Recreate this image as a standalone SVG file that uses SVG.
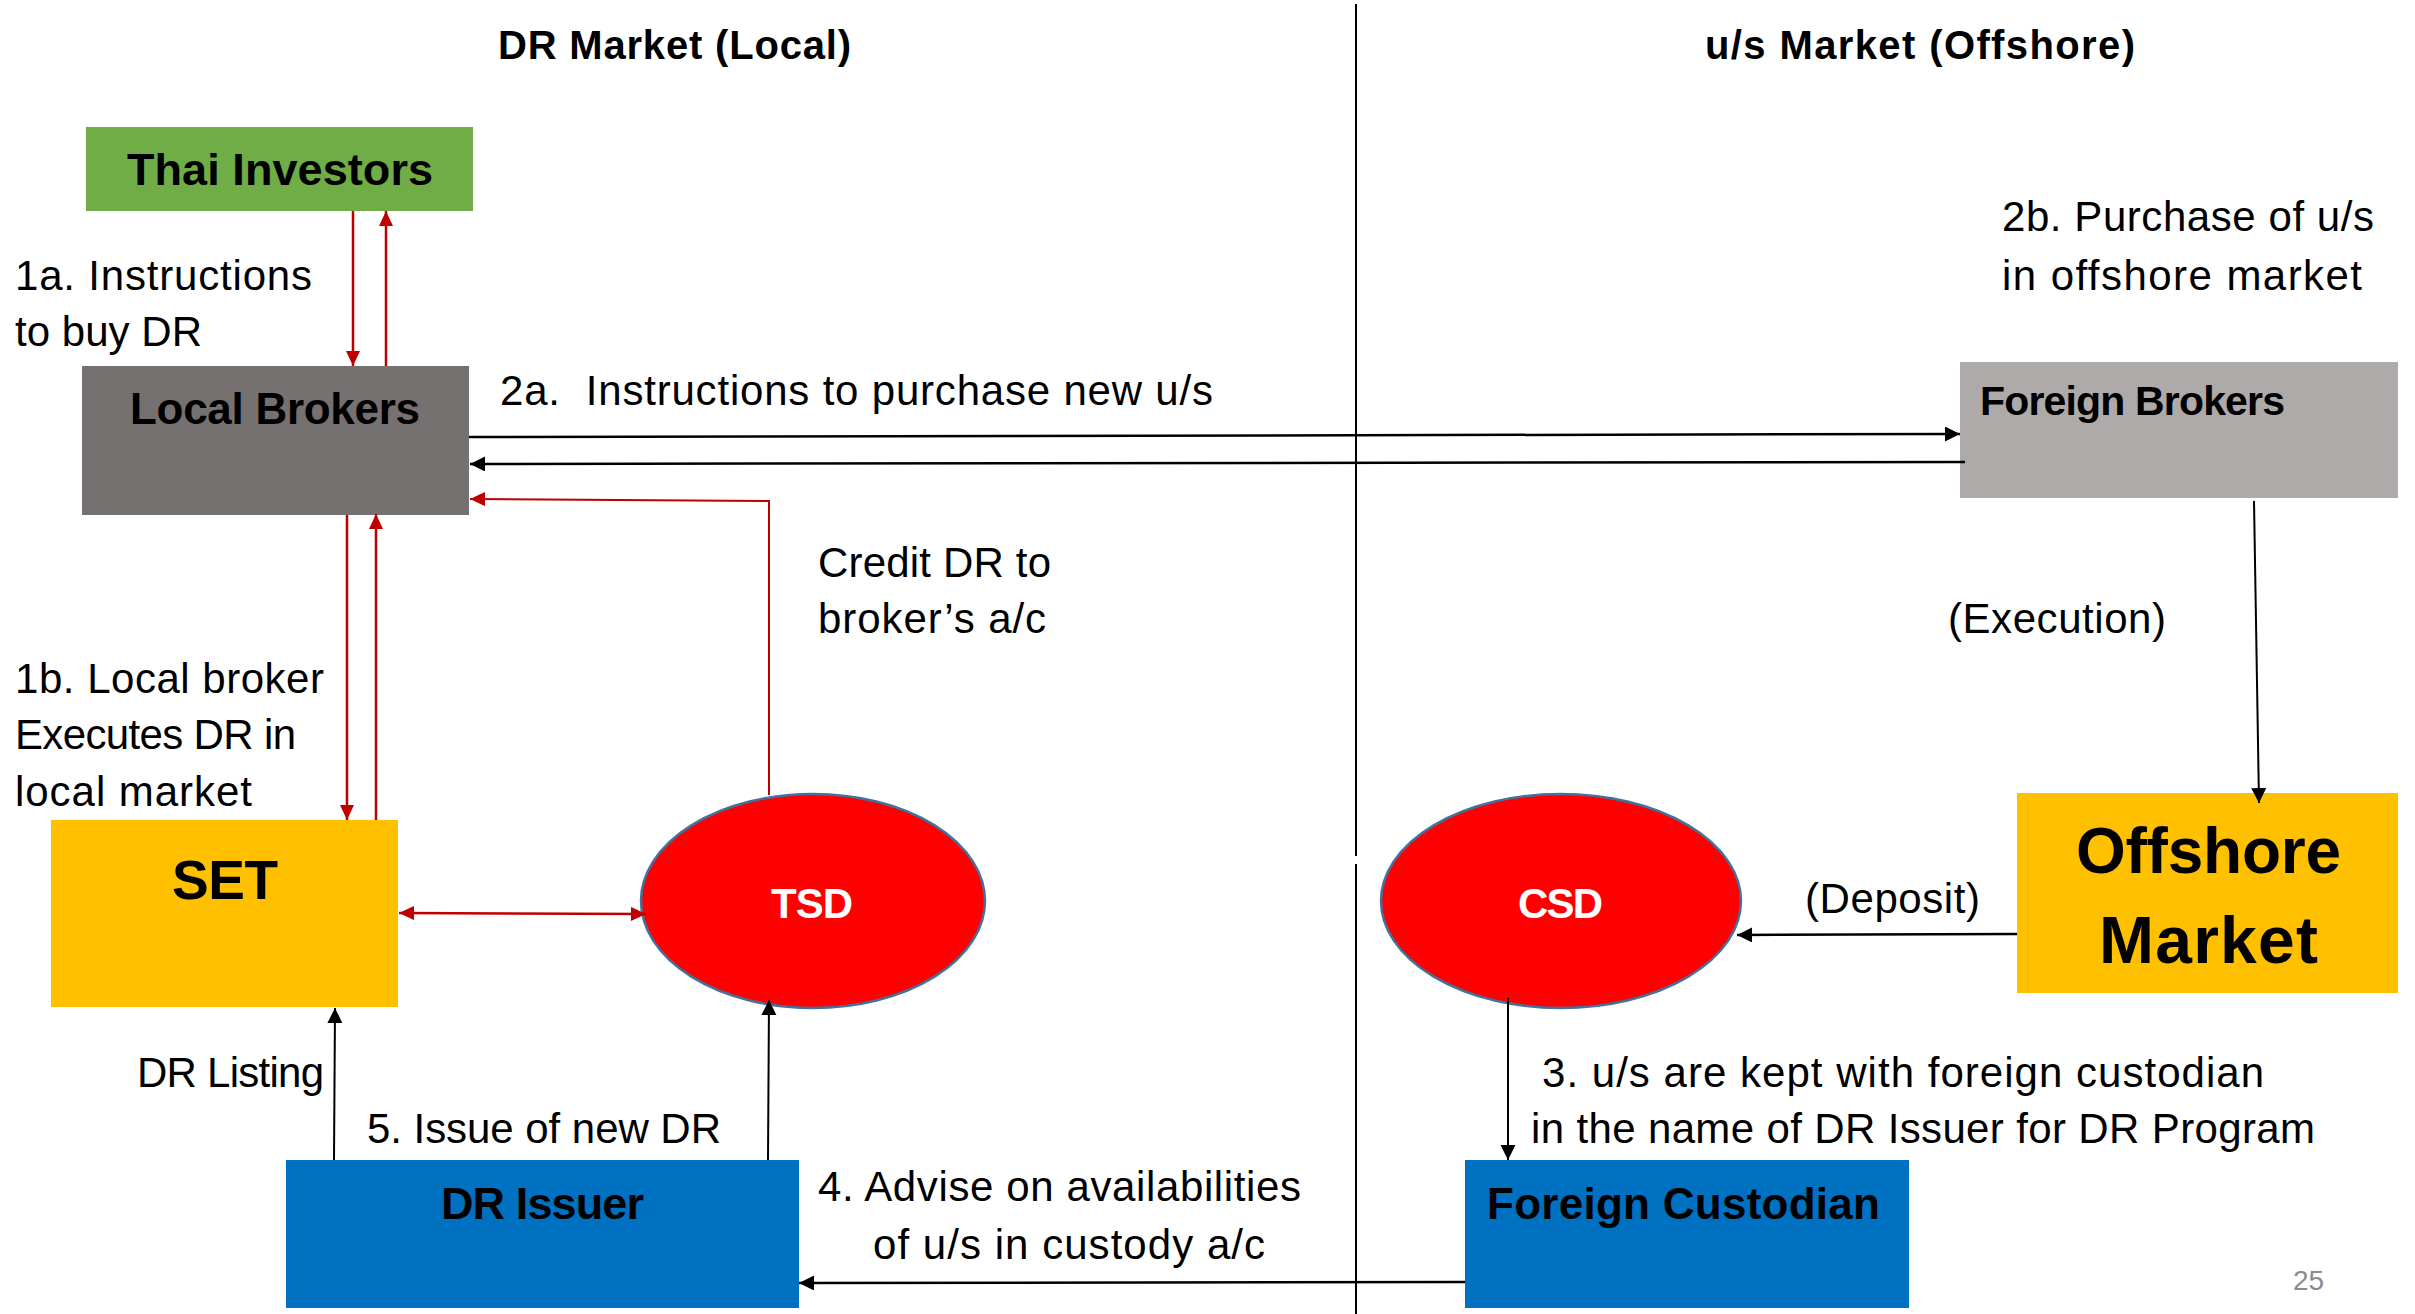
<svg xmlns="http://www.w3.org/2000/svg" width="2415" height="1314" viewBox="0 0 2415 1314">
<defs>
<style>
text{font-family:"Liberation Sans",Arial,sans-serif;fill:#000}
.t{font-size:42px}
.h{font-size:40px;font-weight:bold}
.n{font-size:45px;font-weight:bold}
.w{font-size:42px;font-weight:bold;fill:#fff}
.blk{stroke:#000;stroke-width:2.5;fill:none}
.thin{stroke:#000;stroke-width:2;fill:none}
.red{stroke:#C00000;stroke-width:2.5;fill:none}
.redthin{stroke:#C00000;stroke-width:2;fill:none}
.ell{fill:#FF0000;stroke:#41719C;stroke-width:2.5}
</style>
<marker id="ab" markerUnits="userSpaceOnUse" markerWidth="16" markerHeight="16" refX="15" refY="7.5" orient="auto-start-reverse">
<path d="M0,0 L15,7.5 L0,15 z" fill="#000"/>
</marker>
<marker id="ar" markerUnits="userSpaceOnUse" markerWidth="16" markerHeight="16" refX="15" refY="7" orient="auto-start-reverse">
<path d="M0,0 L15,7 L0,14 z" fill="#C00000"/>
</marker>
</defs>
<rect width="2415" height="1314" fill="#fff"/>

<g id="divider">
<line x1="1356" y1="4" x2="1356" y2="856" class="thin"/>
<line x1="1356" y1="864" x2="1356" y2="1314" class="thin"/>
</g>

<g id="titles">
<text class="h" x="498" y="59" textLength="353">DR Market (Local)</text>
<text class="h" x="1705" y="59" textLength="430">u/s Market (Offshore)</text>
</g>

<g id="thai-investors">
<rect x="86" y="127" width="387" height="84" fill="#70AD47"/>
<text class="n" x="127" y="185" textLength="306">Thai Investors</text>
</g>

<g id="local-brokers">
<rect x="82" y="366" width="387" height="149" fill="#767171"/>
<text class="n" style="font-size:44px" x="130" y="424" textLength="290">Local Brokers</text>
</g>

<g id="foreign-brokers">
<rect x="1960" y="362" width="438" height="136" fill="#AEAAAA"/>
<text class="n" style="font-size:41px" x="1980" y="415" textLength="305">Foreign Brokers</text>
</g>

<g id="set">
<rect x="51" y="820" width="347" height="187" fill="#FFC000"/>
<text class="n" style="font-size:55px" x="172" y="899" textLength="106">SET</text>
</g>

<g id="tsd">
<ellipse cx="813" cy="901" rx="172" ry="107" class="ell"/>
<text class="w" x="771" y="918" textLength="82">TSD</text>
</g>

<g id="csd">
<ellipse cx="1561" cy="901" rx="180" ry="107" class="ell"/>
<text class="w" x="1518" y="918" textLength="85">CSD</text>
</g>

<g id="offshore-market">
<rect x="2017" y="793" width="381" height="200" fill="#FFC000"/>
<text class="n" style="font-size:64px" x="2076" y="873" textLength="265">Offshore</text>
<text class="n" style="font-size:66px" x="2099" y="963" textLength="219">Market</text>
</g>

<g id="dr-issuer">
<rect x="286" y="1160" width="513" height="148" fill="#0070C0"/>
<text class="n" x="441" y="1219" textLength="203">DR Issuer</text>
</g>

<g id="foreign-custodian">
<rect x="1465" y="1160" width="444" height="148" fill="#0070C0"/>
<text class="n" style="font-size:44px" x="1487" y="1219" textLength="393">Foreign Custodian</text>
</g>

<g id="connectors">
<line x1="353" y1="211" x2="353" y2="366" class="red" marker-end="url(#ar)"/>
<line x1="386" y1="366" x2="386" y2="211" class="red" marker-end="url(#ar)"/>
<line x1="347" y1="515" x2="347" y2="820" class="red" marker-end="url(#ar)"/>
<line x1="376" y1="820" x2="376" y2="514" class="red" marker-end="url(#ar)"/>
<line x1="399" y1="913" x2="646" y2="914" class="red" marker-start="url(#ar)" marker-end="url(#ar)"/>
<polyline points="769,795 769,501 470,499" class="redthin" marker-end="url(#ar)"/>
<line x1="469" y1="437" x2="1960" y2="434" class="blk" marker-end="url(#ab)"/>
<line x1="1965" y1="462" x2="470" y2="464" class="blk" marker-end="url(#ab)"/>
<line x1="2254" y1="501" x2="2259" y2="803" class="thin" marker-end="url(#ab)"/>
<line x1="2017" y1="934" x2="1737" y2="935" class="blk" marker-end="url(#ab)"/>
<line x1="1508" y1="998" x2="1508" y2="1160" class="thin" marker-end="url(#ab)"/>
<line x1="1465" y1="1282" x2="799" y2="1283" class="blk" marker-end="url(#ab)"/>
<line x1="334" y1="1160" x2="335" y2="1008" class="thin" marker-end="url(#ab)"/>
<line x1="768" y1="1160" x2="769" y2="1000" class="thin" marker-end="url(#ab)"/>
</g>

<g id="labels">
<text class="t" x="15" y="290" textLength="297">1a. Instructions</text>
<text class="t" x="15" y="346" textLength="187">to buy DR</text>
<text class="t" x="500" y="405" textLength="713">2a.&#160; Instructions to purchase new u/s</text>
<text class="t" x="2002" y="231" textLength="372">2b. Purchase of u/s</text>
<text class="t" x="2002" y="290" textLength="360">in offshore market</text>
<text class="t" x="818" y="577" textLength="233">Credit DR to</text>
<text class="t" x="818" y="633" textLength="228">broker’s a/c</text>
<text class="t" x="1948" y="633" textLength="218">(Execution)</text>
<text class="t" x="15" y="693" textLength="309">1b. Local broker</text>
<text class="t" x="15" y="749" textLength="281">Executes DR in</text>
<text class="t" x="15" y="806" textLength="237">local market</text>
<text class="t" x="1805" y="913" textLength="175">(Deposit)</text>
<text class="t" x="137" y="1087" textLength="187">DR Listing</text>
<text class="t" x="367" y="1143" textLength="354">5. Issue of new DR</text>
<text class="t" x="1542" y="1087" textLength="722">3. u/s are kept with foreign custodian</text>
<text class="t" x="1531" y="1143" textLength="784">in the name of DR Issuer for DR Program</text>
<text class="t" x="818" y="1201" textLength="483">4. Advise on availabilities</text>
<text class="t" x="873" y="1259" textLength="392">of u/s in custody a/c</text>
<text x="2293" y="1290" style="font-size:28px;fill:#8B8B8B" textLength="31">25</text>
</g>
</svg>
